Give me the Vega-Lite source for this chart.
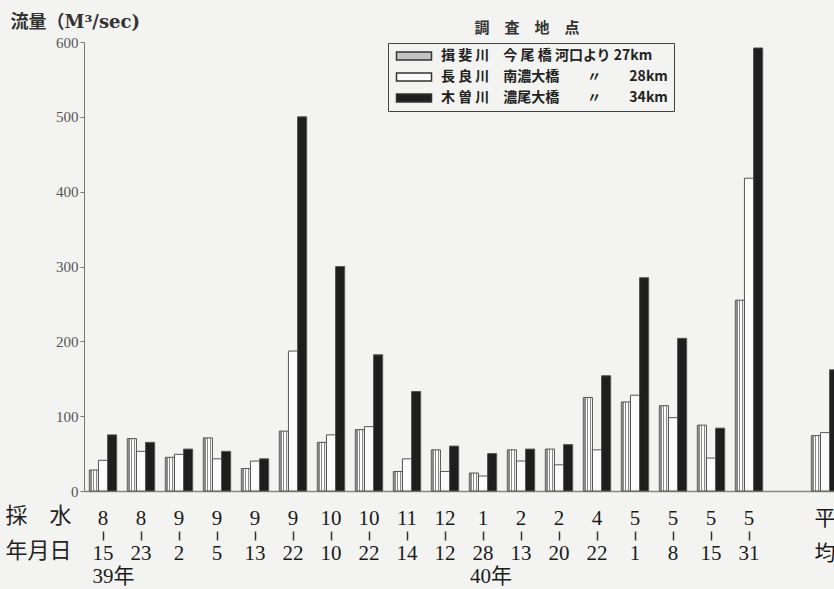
{
  "$schema": "https://vega.github.io/schema/vega-lite/v6.json",
  "width": 750,
  "height": 449,
  "autosize": {"type": "none"},
  "padding": {"left": 84, "top": 42, "right": 0, "bottom": 98},
  "background": "#f3f3f1",
  "title": {"text": "調　査　地　点", "anchor": "start", "frame": "group", "align": "center", "dx": 443, "offset": -23, "fontSize": 15, "font": "Noto Sans CJK JP", "fontWeight": "bold", "color": "#333333"},
  "data": {"values": [
    {"date": "8/15", "river": "揖斐川", "flow": 28}, {"date": "8/15", "river": "長良川", "flow": 41}, {"date": "8/15", "river": "木曽川", "flow": 75},
    {"date": "8/23", "river": "揖斐川", "flow": 70}, {"date": "8/23", "river": "長良川", "flow": 53}, {"date": "8/23", "river": "木曽川", "flow": 65},
    {"date": "9/2", "river": "揖斐川", "flow": 45}, {"date": "9/2", "river": "長良川", "flow": 49}, {"date": "9/2", "river": "木曽川", "flow": 56},
    {"date": "9/5", "river": "揖斐川", "flow": 71}, {"date": "9/5", "river": "長良川", "flow": 43}, {"date": "9/5", "river": "木曽川", "flow": 53},
    {"date": "9/13", "river": "揖斐川", "flow": 30}, {"date": "9/13", "river": "長良川", "flow": 40}, {"date": "9/13", "river": "木曽川", "flow": 43},
    {"date": "9/22", "river": "揖斐川", "flow": 80}, {"date": "9/22", "river": "長良川", "flow": 187}, {"date": "9/22", "river": "木曽川", "flow": 500},
    {"date": "10/10", "river": "揖斐川", "flow": 65}, {"date": "10/10", "river": "長良川", "flow": 75}, {"date": "10/10", "river": "木曽川", "flow": 300},
    {"date": "10/22", "river": "揖斐川", "flow": 82}, {"date": "10/22", "river": "長良川", "flow": 86}, {"date": "10/22", "river": "木曽川", "flow": 182},
    {"date": "11/14", "river": "揖斐川", "flow": 26}, {"date": "11/14", "river": "長良川", "flow": 43}, {"date": "11/14", "river": "木曽川", "flow": 133},
    {"date": "12/12", "river": "揖斐川", "flow": 55}, {"date": "12/12", "river": "長良川", "flow": 26}, {"date": "12/12", "river": "木曽川", "flow": 60},
    {"date": "1/28", "river": "揖斐川", "flow": 24}, {"date": "1/28", "river": "長良川", "flow": 20}, {"date": "1/28", "river": "木曽川", "flow": 50},
    {"date": "2/13", "river": "揖斐川", "flow": 55}, {"date": "2/13", "river": "長良川", "flow": 40}, {"date": "2/13", "river": "木曽川", "flow": 56},
    {"date": "2/20", "river": "揖斐川", "flow": 56}, {"date": "2/20", "river": "長良川", "flow": 35}, {"date": "2/20", "river": "木曽川", "flow": 62},
    {"date": "4/22", "river": "揖斐川", "flow": 125}, {"date": "4/22", "river": "長良川", "flow": 55}, {"date": "4/22", "river": "木曽川", "flow": 154},
    {"date": "5/1", "river": "揖斐川", "flow": 119}, {"date": "5/1", "river": "長良川", "flow": 128}, {"date": "5/1", "river": "木曽川", "flow": 285},
    {"date": "5/8", "river": "揖斐川", "flow": 114}, {"date": "5/8", "river": "長良川", "flow": 98}, {"date": "5/8", "river": "木曽川", "flow": 204},
    {"date": "5/15", "river": "揖斐川", "flow": 88}, {"date": "5/15", "river": "長良川", "flow": 44}, {"date": "5/15", "river": "木曽川", "flow": 84},
    {"date": "5/31", "river": "揖斐川", "flow": 255}, {"date": "5/31", "river": "長良川", "flow": 418}, {"date": "5/31", "river": "木曽川", "flow": 592},
    {"date": "avg", "river": "揖斐川", "flow": 74}, {"date": "avg", "river": "長良川", "flow": 78}, {"date": "avg", "river": "木曽川", "flow": 162}
  ]},
  "layer": [
    {
      "mark": {"type": "bar"},
      "encoding": {
        "x": {
          "field": "date", "type": "nominal",
          "scale": {"domain": ["8/15","8/23","9/2","9/5","9/13","9/22","10/10","10/22","11/14","12/12","1/28","2/13","2/20","4/22","5/1","5/8","5/15","5/31","gap","avg"], "range": [0, 760], "paddingInner": 0.28, "paddingOuter": 0.14},
          "axis": {
            "orient": "bottom", "ticks": false, "domainColor": "#888888", "domainWidth": 1.5,
            "labelAngle": 0,
            "labelExpr": "datum.value == 'gap' ? '' : datum.value == 'avg' ? ['平', '\u200b', '\u200b', '均'] : datum.value == '8/15' ? ['8', '\u200b', '\u200b', '15', '\u200b', '\u200b\u00a0\u00a0\u00a0\u00a039年'] : datum.value == '1/28' ? ['1', '\u200b', '\u200b', '28', '\u200b', '\u200b\u00a0\u00a0\u00a040年'] : [split(datum.value, '/')[0], '\u200b', '\u200b', split(datum.value, '/')[1]]",
            "labelFont": "Liberation Serif, Noto Sans CJK JP", "labelFontSize": 21, "labelLineHeight": 11.67, "labelPadding": 16, "labelColor": "#1a1a1a", "labelOverlap": false, "labelBound": false, "labelFlush": false,
            "title": ["採\u3000水", "年月日"], "titleX": -79, "titleY": 14, "titleAlign": "left", "titleBaseline": "top", "titleFont": "Noto Sans CJK JP", "titleFontSize": 22, "titleFontWeight": "normal", "titleLineHeight": 35, "titleColor": "#222222"
          }
        },
        "xOffset": {"field": "river", "type": "nominal", "scale": {"domain": ["揖斐川", "長良川", "木曽川"]}},
        "y": {
          "field": "flow", "type": "quantitative",
          "scale": {"domain": [0, 600]},
          "axis": {
            "values": [0, 100, 200, 300, 400, 500, 600], "grid": false, "tickSize": 4, "tickColor": "#777777", "domainColor": "#777777",
            "labelFont": "Liberation Serif", "labelFontSize": 15, "labelColor": "#555555", "labelPadding": 2,
            "title": "流量（M³/sec)", "titleAngle": 0, "titleX": -74, "titleY": -20, "titleAlign": "left", "titleBaseline": "middle",
            "titleFont": "DejaVu Serif, Noto Sans CJK JP", "titleFontSize": 18, "titleFontWeight": "bold", "titleColor": "#333333"
          }
        },
        "fill": {
          "condition": {"test": "datum.river == '揖斐川'", "value": {"gradient": "linear", "x1": 0, "y1": 0, "x2": 1, "y2": 0, "stops": [
              {"offset": 0, "color": "#fbfbfb"}, {"offset": 0.12, "color": "#fbfbfb"}, {"offset": 0.12, "color": "#8a8a8a"}, {"offset": 0.24, "color": "#8a8a8a"},
              {"offset": 0.24, "color": "#fbfbfb"}, {"offset": 0.44, "color": "#fbfbfb"}, {"offset": 0.44, "color": "#8a8a8a"}, {"offset": 0.56, "color": "#8a8a8a"},
              {"offset": 0.56, "color": "#fbfbfb"}, {"offset": 0.76, "color": "#fbfbfb"}, {"offset": 0.76, "color": "#8a8a8a"}, {"offset": 0.88, "color": "#8a8a8a"},
              {"offset": 0.88, "color": "#fbfbfb"}, {"offset": 1, "color": "#fbfbfb"}
            ]}},
          "field": "river", "type": "nominal",
          "scale": {"domain": ["揖斐川", "長良川", "木曽川"], "range": ["#c4c4c4", "#fbfbfb", "#1e1e1e"]},
          "legend": {
            "orient": "none", "legendX": 304, "legendY": 1, "title": null,
            "strokeColor": "#444444", "padding": 6, "rowPadding": 7,
            "symbolType": "M-3.5,-0.8H3.5V0.8H-3.5Z", "symbolSize": 100, "symbolOffset": 13, "labelOffset": 20, "symbolStrokeColor": "#333333", "symbolStrokeWidth": 1.5,
            "labelFont": "Noto Sans CJK JP", "labelFontSize": 14, "labelFontWeight": "bold", "labelColor": "#222222", "labelLimit": 400,
            "labelExpr": "datum.value == '揖斐川' ? '揖 斐 川　今 尾 橋 河口より 27km' : datum.value == '長良川' ? '長 良 川　南濃大橋　　〃　　28km' : '木 曽 川　濃尾大橋　　〃　　34km'"
          }
        }
      }
    },
    {
      "mark": {"type": "bar", "fillOpacity": 0, "stroke": "#555555", "strokeWidth": 1},
      "encoding": {
        "x": {
          "field": "date", "type": "nominal",
          "axis": {"orient": "bottom", "offset": 40, "domain": false, "labels": false, "ticks": true, "tickSize": 9, "tickWidth": 1.5, "tickColor": "#333333",
            "tickOpacity": {"condition": {"test": "datum.value == 'gap' || datum.value == 'avg'", "value": 0}, "value": 1}, "title": null}
        },
        "xOffset": {"field": "river", "type": "nominal"},
        "y": {"field": "flow", "type": "quantitative"}
      }
    }
  ],
  "resolve": {"axis": {"x": "independent"}},
  "config": {"view": {"stroke": null}}
}
